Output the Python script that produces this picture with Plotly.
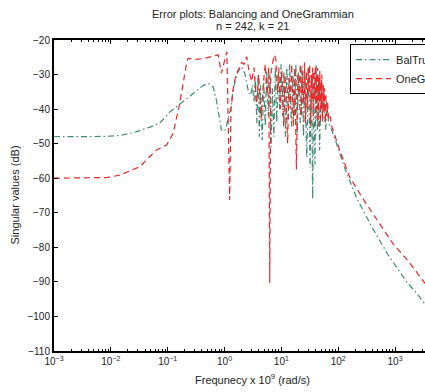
import plotly.graph_objects as go

# ---- data ----
bal_freq = [0.001, 0.002, 0.004, 0.008, 0.015, 0.025, 0.049, 0.073, 0.11, 0.186, 0.32, 0.42, 0.51, 0.63, 0.72,
            0.83, 0.88, 1.0, 1.08, 1.2, 1.32, 1.4, 1.55, 1.72, 1.99, 2.28, 2.6, 2.9, 3.1, 3.3, 3.5, 3.7, 3.9,
            4.1, 4.3, 4.6, 4.9, 5.2, 5.5, 5.9, 6.3, 6.6, 7.0, 7.4, 7.8, 8.3, 8.8, 9.3, 9.9, 10.5, 11.1, 11.8,
            12.5, 13.2, 14, 15, 16, 17, 18, 19, 20, 21.5, 23, 24.5, 26, 28, 30, 32, 34, 35.5, 37, 39, 41, 43,
            45, 47, 50, 53, 56, 60, 64, 68, 72, 87, 130, 211, 388, 741, 1600, 2400, 3400]
bal_db = [-48.0, -48.0, -48.0, -47.9, -47.6, -46.8, -45.2, -44.0, -40.8, -37.8, -34.5, -33.2, -32.5, -33.5, -37.4,
          -44.0, -46.0, -46.4, -45.0, -41.5, -39.3, -34.5, -31.5, -29.2, -27.7, -29.7, -34.5, -36.0, -33.0, -38.0,
          -31.0, -44.0, -30.0, -48.0, -33.0, -49.0, -32.0, -45.0, -29.0, -42.0, -30.0, -51.0, -34.0, -48.0, -28.0,
          -44.0, -30.0, -40.0, -27.0, -42.0, -29.0, -48.0, -28.0, -43.0, -27.0, -45.0, -30.0, -42.0, -27.0, -47.0,
          -29.0, -44.0, -27.5, -48.0, -30.0, -54.0, -28.0, -57.0, -30.0, -66.0, -33.0, -56.0, -27.0, -46.0, -30.0,
          -52.0, -33.0, -44.0, -35.0, -46.0, -40.0, -44.0, -45.0, -48.4, -57.0, -65.7, -74.0, -82.0, -90.0, -93.3,
          -96.5]

one_freq = [0.001, 0.003, 0.0085, 0.0145, 0.032, 0.064, 0.096, 0.125, 0.163, 0.215, 0.229, 0.32, 0.45, 0.77,
            0.88, 1.1, 1.23, 1.3, 1.45, 1.6, 1.8, 2.0, 2.2, 2.45, 2.7, 3.0, 3.3, 3.65, 4.0, 4.4, 4.8, 5.2, 5.6,
            6.0, 6.25, 6.5, 7.0, 7.5, 8.0, 8.5, 9.0, 9.6, 10.2, 11.0, 11.6, 12.3, 12.9, 13.6, 14.3, 15.2, 16.2,
            17.2, 18.4, 19.5, 20.5, 21.5, 22.5, 23.5, 24.5, 25.5, 26.5, 27.5, 28.5, 29.5, 30.5, 31.5, 32.5, 33.5,
            34.5, 35.5, 36.5, 37.5, 38.5, 39.5, 40.5, 41.5, 42.5, 43.5, 44.5, 45.5, 46.5, 47.5, 48.5, 49.5, 50.5,
            51.5, 53, 54.5, 56, 57.5, 59, 61, 63, 65, 68, 72, 77, 106, 158, 269, 537, 908, 1807, 2720, 3400]
one_db = [-60.0, -60.0, -59.8, -59.1, -56.7, -51.8, -50.4, -47.0, -38.3, -26.7, -25.3, -25.6, -25.3, -24.3,
          -29.6, -23.4, -66.3, -40.0, -33.0, -30.0, -28.0, -26.5, -27.0, -24.8, -29.0, -32.0, -28.0, -38.3, -30.0,
          -43.0, -33.0, -27.0, -36.0, -28.0, -90.3, -30.0, -26.7, -24.3, -25.5, -35.0, -28.0, -40.0, -29.0, -45.0,
          -30.0, -44.0, -49.9, -31.0, -40.0, -27.0, -45.0, -28.0, -57.5, -30.0, -36.0, -27.0, -42.0, -29.0, -38.0,
          -26.5, -44.0, -29.0, -40.0, -28.0, -35.0, -27.0, -45.0, -30.0, -38.0, -28.0, -42.0, -29.0, -37.0, -27.5,
          -43.0, -30.0, -40.0, -28.0, -45.0, -31.0, -38.0, -29.0, -44.0, -32.0, -40.0, -30.0, -43.0, -33.0, -41.0,
          -34.0, -44.0, -36.0, -42.0, -38.0, -43.0, -42.0, -45.0, -51.8, -59.6, -65.8, -73.0, -78.8, -84.5, -88.6,
          -90.5]

series_names = ["BalTrunc", "OneGrammian"]
x_tick_vals = [0.001, 0.01, 0.1, 1, 10, 100, 1000]
x_tick_text = ["10<sup>\u22123</sup>", "10<sup>\u22122</sup>", "10<sup>\u22121</sup>", "10<sup>0</sup>",
               "10<sup>1</sup>", "10<sup>2</sup>", "10<sup>3</sup>"]
y_tick_vals = [-110, -100, -90, -80, -70, -60, -50, -40, -30, -20]

minor_vals = [m * d for d in [0.001, 0.01, 0.1, 1, 10, 100, 1000] for m in range(2, 10)]

FONT = "Liberation Sans, Arial, Helvetica, sans-serif"

fig = go.Figure()
fig.add_trace(go.Scatter(x=bal_freq, y=bal_db, mode="lines", name=series_names[0],
                         line=dict(color="#3f8a72", width=1.2, dash="6px,3px,1.5px,3px")))
fig.add_trace(go.Scatter(x=one_freq, y=one_db, mode="lines", name=series_names[1],
                         line=dict(color="#e8282b", width=1.2, dash="6px,4px")))

fig.update_layout(
    width=425, height=392,
    margin=dict(l=54, r=0, t=40, b=41, autoexpand=False),
    paper_bgcolor="white", plot_bgcolor="white",
    font=dict(family=FONT, size=10, color="#222"),
    showlegend=True,
    legend=dict(x=0.798, y=0.987, xanchor="left", yanchor="top",
                bgcolor="white", bordercolor="black", borderwidth=1,
                font=dict(size=11, family=FONT, color="#222"),
                tracegroupgap=0, itemwidth=35),
    xaxis=dict(type="log", range=[-3, 3.527], showgrid=False, zeroline=False,
               showline=True, linecolor="black", linewidth=2, mirror="ticks",
               ticks="inside", ticklen=4, tickcolor="black",
               tickvals=x_tick_vals, ticktext=x_tick_text,
               tickfont=dict(size=10, family=FONT, color="#222"),
               minor=dict(tickvals=minor_vals, ticks="inside", ticklen=2, tickcolor="black")),
    yaxis=dict(range=[-110, -20], showgrid=False, zeroline=False,
               showline=True, linecolor="black", linewidth=2, mirror=False,
               ticks="inside", ticklen=4, tickcolor="black",
               tickvals=y_tick_vals,
               tickfont=dict(size=10, family=FONT, color="#222")),
    annotations=[
        dict(text="Error plots: Balancing and OneGrammian", xref="paper", yref="paper",
             x=0.536, y=1, yshift=26, xanchor="center", yanchor="middle", showarrow=False,
             font=dict(size=11, family=FONT, color="#222")),
        dict(text="n = 242, k = 21", xref="paper", yref="paper",
             x=0.536, y=1, yshift=14, xanchor="center", yanchor="middle", showarrow=False,
             font=dict(size=11, family=FONT, color="#222")),
        dict(text="Frequnecy x 10<sup>9</sup> (rad/s)", xref="paper", yref="paper",
             x=0.536, y=0, yshift=-28, xanchor="center", yanchor="middle", showarrow=False,
             font=dict(size=11, family=FONT, color="#222")),
        dict(text="Singular values (dB)", xref="paper", yref="paper",
             x=0, y=0.5, xshift=-40, xanchor="center", yanchor="middle", showarrow=False,
             textangle=-90, font=dict(size=11, family=FONT, color="#222")),
    ],
)

fig.write_html("out.html")
